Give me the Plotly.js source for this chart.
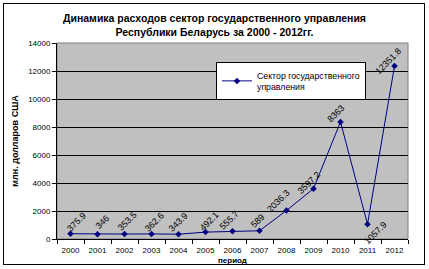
<!DOCTYPE html>
<html><head><meta charset="utf-8">
<script src="https://cdn.plot.ly/plotly-3.0.1.min.js"></script>
<style>body{margin:0;background:#fff}#wrap{position:relative;width:429px;height:269px}#frame{position:absolute;left:3px;top:3px;width:420px;height:260px;border:1px solid #000;pointer-events:none}</style>
</head><body><div id="wrap"><div id="chart" style="width:429px;height:269px"></div><div id="frame"></div></div>
<script>
const years = ['2000','2001','2002','2003','2004','2005','2006','2007','2008','2009','2010','2011','2012'];
const values = [375.9, 346, 353.5, 362.6, 343.9, 492.1, 555.7, 589, 2036.3, 3597.2, 8363, 1057.9, 12351.8];
const labels = ['375.9','346','353.5','362.6','343.9','492.1','555.7','589','2036.3','3597.2','8363','1057.9','12351.8'];
const yTicks = [0,2000,4000,6000,8000,10000,12000,14000];
const seriesName = 'Сектор государственного<br>управления';
const titleText = '<b>Динамика расходов сектор государственного управления<br>Республики Беларусь за 2000 - 2012гг.</b>';

// label placement (screen-pixel shifts of each data label from its point; style only)
const labelDx = [6, 5, 3, 3, 0, 4, -3, -2, -8, -5, -5, 8, -6];
const labelDy = [12, 12, 13, 12, 12, 11, 11, 10, 9, 6, 8, -9, 5];

const font = 'Arial, "Liberation Sans", sans-serif';
const idx = years.map((_,i)=>i);
const bounds = years.concat(['']).map((_,i)=>i-0.5);
const annotations = idx.map(i=>({x:i, y:values[i], xref:'x', yref:'y', text:labels[i], showarrow:false, textangle:-45,
    xshift: labelDx[i], yshift: labelDy[i], font:{family:font,size:9,color:'#000'}}));
annotations.push({xref:'paper',yref:'paper',x:0.5,y:-0.075,yanchor:'top',showarrow:false,text:'<b>период</b>',font:{family:font,size:8,color:'#000'}});
annotations.push({xref:'paper',yref:'paper',x:0.45,y:1.094,xanchor:'center',yanchor:'middle',showarrow:false,text:titleText,font:{family:font,size:10.5,color:'#000'}});

Plotly.newPlot('chart',[{
  x:idx, y:values, type:'scatter', mode:'lines+markers', name:seriesName,
  line:{color:'#000080',width:1}, marker:{symbol:'diamond',size:5,color:'#000080'},
  cliponaxis:false
}],{
  width:429,height:269,
  margin:{l:57,r:21,t:43,b:30},
  paper_bgcolor:'#fff', plot_bgcolor:'#c0c0c0',
  showlegend:true,
  legend:{x:0.453,y:0.903,xanchor:'left',yanchor:'top',bgcolor:'#fff',bordercolor:'#000',borderwidth:1,
    font:{family:font,size:8.75,color:'#000'}, itemwidth:30, tracegroupgap:0},
  xaxis:{range:[-0.5,12.5], tickvals:idx, ticktext:years, ticks:'', ticklabelstandoff:3,
    minor:{tickvals:bounds, ticks:'outside', ticklen:4, tickcolor:'#000', showgrid:false},
    showline:true, linecolor:'#000', linewidth:1, showgrid:false, zeroline:false,
    tickfont:{family:font,size:8,color:'#000'}},
  yaxis:{range:[0,14000], tickvals:yTicks, ticktext:yTicks.map(String), ticks:'outside', ticklen:4, tickcolor:'#000',
    showline:true, linecolor:'#000', linewidth:1, gridcolor:'#000', gridwidth:1, zeroline:false,
    tickfont:{family:font,size:8,color:'#000'},
    title:{text:'<b>млн. долларов США</b>', font:{family:font,size:9,color:'#000'}, standoff:8}},
  shapes:[{type:'rect',xref:'paper',yref:'paper',x0:0,x1:1,y0:0,y1:1,line:{color:'#808080',width:1},layer:'below'}],
  annotations:annotations
},{displayModeBar:false,staticPlot:true});
</script></body></html>
